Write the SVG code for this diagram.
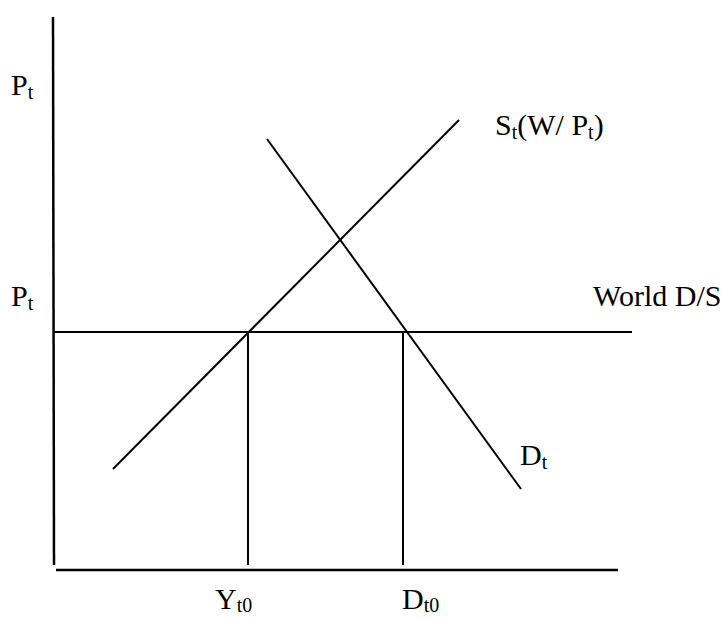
<svg xmlns="http://www.w3.org/2000/svg" width="728" height="619" viewBox="0 0 728 619">
<style>
.ln{stroke:#000;stroke-width:2;fill:none;stroke-linecap:butt}
.ax{stroke:#000;stroke-width:2.5;fill:none}
text{font-family:"Liberation Serif","Times New Roman",serif;font-size:30px;fill:#000}
.s{font-size:20px}
</style>
<rect width="728" height="619" fill="#fff"/>
<g id="axes">
<line class="ax" x1="53" y1="17" x2="54" y2="565"/>
<line class="ax" x1="56" y1="570" x2="618" y2="570"/>
</g>
<g id="connectors">
<line id="world" class="ln" x1="53" y1="332" x2="632" y2="332"/>
<line id="supply" class="ln" x1="113" y1="469" x2="459" y2="120"/>
<line id="demand" class="ln" x1="267" y1="139" x2="521" y2="489"/>
<line id="y0line" class="ln" x1="248" y1="332" x2="248" y2="565"/>
<line id="d0line" class="ln" x1="403" y1="332" x2="403" y2="565"/>
</g>
<g id="label-pt-top"><text x="11" y="95">P<tspan class="s" dy="4">t</tspan></text></g>
<g id="label-pt-world"><text x="11" y="306">P<tspan class="s" dy="4">t</tspan></text></g>
<g id="label-supply"><text x="495" y="135">S<tspan class="s" dy="4">t</tspan><tspan dy="-4">(W/ P</tspan><tspan class="s" dy="4">t</tspan><tspan dy="-4">)</tspan></text></g>
<g id="label-world"><text x="593" y="306" font-size="31">World D/S</text></g>
<g id="label-dt"><text x="520" y="465">D<tspan class="s" dy="4">t</tspan></text></g>
<g id="label-yt0"><text x="215" y="609">Y<tspan class="s" dy="3">t0</tspan></text></g>
<g id="label-dt0"><text x="402" y="609">D<tspan class="s" dy="3">t0</tspan></text></g>
</svg>
